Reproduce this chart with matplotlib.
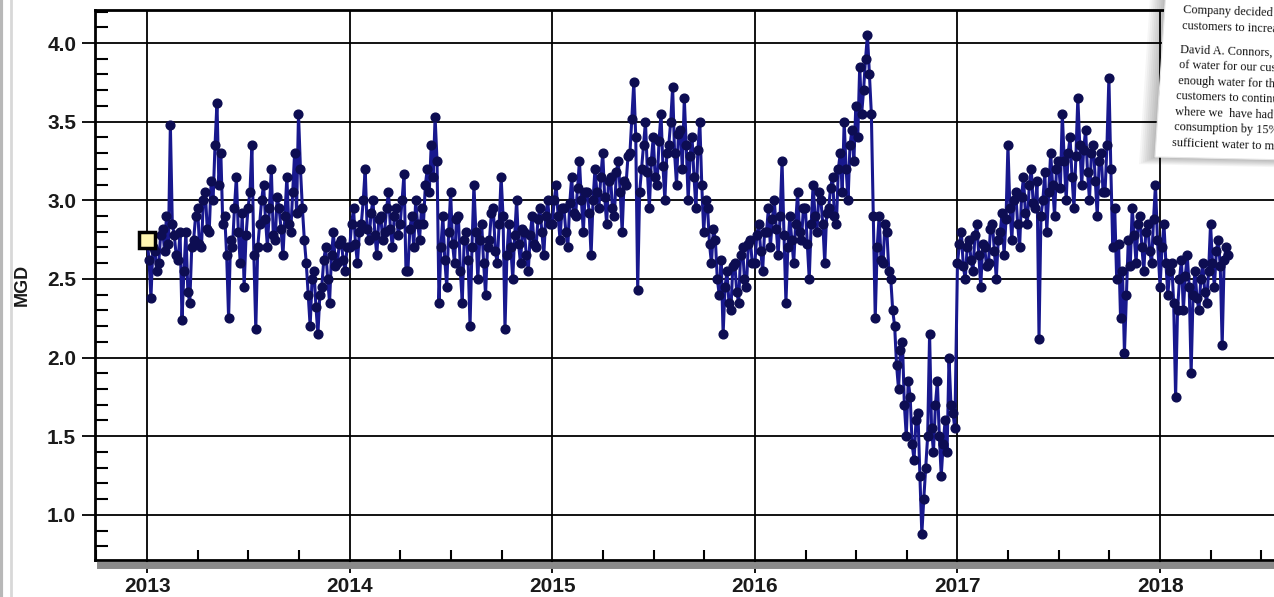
import matplotlib

matplotlib.use("Agg")
import matplotlib.pyplot as plt
import numpy as np
from matplotlib.lines import Line2D
from matplotlib.patches import Polygon
from matplotlib.ticker import FixedLocator, MultipleLocator

# twice-weekly production, million gallons per day, one list per calendar year
mgd_2013 = [2.75, 2.62, 2.38, 2.70, 2.68, 2.55, 2.60, 2.78, 2.82, 2.68, 2.90, 2.72, 3.48, 2.85,
            2.78, 2.65, 2.62, 2.80, 2.24, 2.55, 2.80, 2.42, 2.35, 2.70, 2.75, 2.90, 2.95, 2.72,
            2.70, 3.00, 3.05, 2.82, 2.80, 3.12, 3.00, 3.35, 3.62, 3.10, 3.30, 2.85, 2.90, 2.65,
            2.25, 2.75, 2.70, 2.95, 3.15, 2.80, 2.60, 2.92, 2.45, 2.78, 2.95, 3.05, 3.35, 2.65,
            2.18, 2.70, 2.85, 3.00, 3.10, 2.88, 2.70, 2.95, 3.20, 2.78, 2.75, 3.02, 2.95, 2.82,
            2.65, 2.90, 3.15, 2.85, 2.80, 3.05, 3.30, 2.92, 3.55, 3.20, 2.95, 2.75, 2.60, 2.40,
            2.20, 2.50, 2.55, 2.32, 2.15, 2.40, 2.45, 2.62, 2.70, 2.50, 2.35, 2.65, 2.80, 2.58,
            2.60, 2.72, 2.75, 2.62, 2.55, 2.70]
mgd_2014 = [2.70, 2.85, 2.95, 2.72, 2.60, 2.80, 2.85, 3.00, 3.20, 2.82, 2.75, 2.92, 3.00, 2.78,
            2.65, 2.88, 2.90, 2.75, 2.80, 2.95, 3.05, 2.82, 2.70, 2.90, 2.95, 2.78, 2.85, 3.00,
            3.17, 2.55, 2.55, 2.82, 2.90, 2.70, 3.00, 2.85, 2.75, 2.95, 2.85, 3.10, 3.20, 3.05,
            3.35, 3.15, 3.53, 3.25, 2.35, 2.70, 2.90, 2.62, 2.45, 2.80, 3.05, 2.72, 2.60, 2.88,
            2.90, 2.55, 2.35, 2.75, 2.80, 2.62, 2.20, 2.70, 3.10, 2.80, 2.50, 2.75, 2.85, 2.60,
            2.40, 2.70, 2.75, 2.92, 2.95, 2.68, 2.60, 2.85, 3.15, 2.90, 2.18, 2.65, 2.85, 2.70,
            2.50, 2.78, 3.00, 2.72, 2.60, 2.82, 2.80, 2.65, 2.55, 2.78, 2.90, 2.72, 2.70, 2.88,
            2.95, 2.80, 2.65, 2.90, 3.00, 2.85]
mgd_2015 = [2.85, 3.00, 3.10, 2.90, 2.75, 2.95, 2.95, 2.80, 2.70, 2.98, 3.15, 2.92, 2.90, 3.08,
            3.25, 3.00, 2.80, 3.05, 3.05, 2.92, 2.65, 3.00, 3.20, 3.05, 2.95, 3.15, 3.30, 3.02,
            2.85, 3.12, 3.15, 2.95, 2.90, 3.18, 3.25, 3.05, 2.80, 3.12, 3.10, 3.28, 3.30, 3.52,
            3.75, 3.40, 2.43, 3.05, 3.20, 3.35, 3.50, 3.18, 2.95, 3.25, 3.40, 3.15, 3.10, 3.38,
            3.55, 3.22, 3.00, 3.30, 3.35, 3.50, 3.72, 3.30, 3.10, 3.42, 3.45, 3.20, 3.65, 3.35,
            3.00, 3.28, 3.40, 3.15, 2.95, 3.32, 3.50, 3.10, 2.80, 3.00, 2.95, 2.72, 2.60, 2.82,
            2.75, 2.50, 2.40, 2.62, 2.15, 2.45, 2.55, 2.35, 2.30, 2.58, 2.60, 2.42, 2.35, 2.65,
            2.70, 2.50, 2.45, 2.72, 2.75, 2.60]
mgd_2016 = [2.60, 2.78, 2.85, 2.68, 2.55, 2.80, 2.80, 2.95, 2.70, 2.88, 3.00, 2.82, 2.65, 2.90,
            3.25, 2.78, 2.35, 2.70, 2.90, 2.75, 2.60, 2.85, 3.05, 2.80, 2.75, 2.95, 2.95, 2.72,
            2.50, 2.85, 3.10, 2.90, 2.80, 3.05, 3.00, 2.85, 2.60, 2.92, 2.95, 3.08, 3.15, 2.90,
            2.85, 3.20, 3.30, 3.05, 3.50, 3.20, 3.00, 3.35, 3.45, 3.25, 3.60, 3.40, 3.85, 3.55,
            3.70, 3.90, 4.05, 3.80, 3.55, 2.90, 2.25, 2.70, 2.90, 2.62, 2.60, 2.85, 2.80, 2.55,
            2.50, 2.30, 2.20, 1.95, 1.80, 2.05, 2.10, 1.70, 1.50, 1.85, 1.75, 1.45, 1.35, 1.60,
            1.65, 1.25, 0.88, 1.10, 1.30, 1.50, 2.15, 1.55, 1.40, 1.70, 1.85, 1.50, 1.25, 1.45,
            1.60, 1.40, 2.00, 1.70, 1.65, 1.55]
mgd_2017 = [2.60, 2.72, 2.80, 2.58, 2.50, 2.70, 2.75, 2.62, 2.55, 2.78, 2.85, 2.65, 2.45, 2.72,
            2.70, 2.58, 2.60, 2.82, 2.85, 2.68, 2.50, 2.75, 2.80, 2.92, 2.65, 2.88, 3.35, 2.95,
            2.75, 3.00, 3.05, 2.85, 2.70, 3.02, 3.15, 2.92, 2.85, 3.10, 3.20, 2.98, 2.95, 3.12,
            2.12, 2.90, 3.00, 3.18, 2.80, 3.05, 3.30, 3.10, 2.90, 3.20, 3.25, 3.08, 3.55, 3.25,
            3.00, 3.30, 3.40, 3.15, 2.95, 3.28, 3.65, 3.35, 3.10, 3.32, 3.45, 3.18, 3.00, 3.30,
            3.35, 3.12, 2.90, 3.25, 3.30, 3.05, 3.05, 3.35, 3.78, 3.20, 2.70, 2.95, 2.50, 2.72,
            2.25, 2.55, 2.03, 2.40, 2.75, 2.58, 2.95, 2.78, 2.60, 2.85, 2.90, 2.70, 2.55, 2.80,
            2.85, 2.68, 2.60, 2.88, 3.10, 2.75]
mgd_2018 = [2.45, 2.70, 2.85, 2.60, 2.40, 2.55, 2.60, 2.35, 1.75, 2.30, 2.50, 2.62, 2.30, 2.52,
            2.65, 2.45, 1.90, 2.40, 2.55, 2.38, 2.30, 2.50, 2.60, 2.42, 2.35, 2.55, 2.85, 2.60,
            2.45, 2.68, 2.75, 2.58, 2.08, 2.62, 2.70, 2.65]

years = [2013, 2014, 2015, 2016, 2017, 2018]
series = [mgd_2013, mgd_2014, mgd_2015, mgd_2016, mgd_2017, mgd_2018]

note_lines = [
    "Company decided i",
    "customers to increa",
    "David A. Connors, I",
    "of water for our cust",
    "enough water for tho",
    "customers to continu",
    "where we  have had h",
    "consumption by 15%",
    "sufficient water to me",
]

t = np.concatenate([yr + np.arange(len(v)) * 3.5 / 365.25 for yr, v in zip(years, series)])
mgd = np.concatenate(series)

W, H = 1274, 597
fig = plt.figure(figsize=(W / 100, H / 100), dpi=100)
fig.patch.set_facecolor("white")

x0, x1 = 2012.743, 2018.75
px_per_yr = 202.6
ax_w = (x1 - x0) * px_per_yr / W
ax = fig.add_axes([95 / W, 1 - 560 / H, ax_w, 550 / H])
ax.set_xlim(x0, x1)
ax.set_ylim(0.713, 4.21)

ax.plot(t, mgd, color="#18188e", lw=2.2, marker="o", ms=6.3,
        mfc="#0d0d52", mec="#0d0d52", zorder=3)
# selected-point marker on the first sample
ax.plot(t[0], mgd[0], marker="s", ms=11, mfc="#fff6b0", mec="black", mew=2.5, zorder=4)

ax.xaxis.set_major_locator(FixedLocator(years))
ax.xaxis.set_minor_locator(MultipleLocator(0.25))
ax.set_xticklabels([str(y) for y in years])
ax.yaxis.set_major_locator(MultipleLocator(0.5))
ax.yaxis.set_minor_locator(MultipleLocator(0.1))
ax.yaxis.set_major_formatter(plt.FormatStrFormatter("%.1f"))

font = "Liberation Sans"
for lab in ax.get_xticklabels() + ax.get_yticklabels():
    lab.set_fontfamily(font)
    lab.set_fontweight("bold")
    lab.set_fontsize(15)
    lab.set_color("#1a1a1a")

ax.tick_params(which="major", direction="out", length=9.5, width=1.3, color="black")
ax.tick_params(axis="y", which="major", pad=4)
ax.tick_params(axis="x", which="major", pad=3)
ax.tick_params(axis="y", which="minor", direction="in", length=9, width=1.5)
ax.tick_params(axis="x", which="minor", direction="in", length=7, width=1.5)
ax.grid(which="major", color="black", lw=1.3, zorder=1)

for side in ("left", "bottom", "top"):
    ax.spines[side].set_linewidth(2)
    ax.spines[side].set_color("black")
ax.spines["right"].set_visible(False)


def fig_xy(px, py):
    return (px / W, 1 - py / H)


fig.text(*fig_xy(22, 285), "MGD", fontfamily=font, fontweight="bold", fontsize=13,
         rotation=90, ha="center", va="center", color="#1a1a1a")

# drop shadow under the time axis
fig.add_artist(Line2D([100 / W, 1.0], [1 - 565 / H] * 2, color="#8a8a8a", lw=5,
                      transform=fig.transFigure))

# window chrome on the left edge
fig.add_artist(Line2D([1.5 / W] * 2, [0, 1], color="#b8b8b8", lw=3, transform=fig.transFigure))
fig.add_artist(Line2D([11 / W] * 2, [0, 1], color="#d8d8d8", lw=2, transform=fig.transFigure))

# pasted newspaper clipping with a soft shadow
card = [(1166, -10), (1155, 157), (1290, 160), (1300, -10)]
for k in range(8):
    off = 16 - 2 * k
    shadow = [(x - off, y + off * 0.45) for x, y in card]
    fig.add_artist(Polygon([fig_xy(*p) for p in shadow], closed=True,
                           transform=fig.transFigure, fc="black", ec="none", alpha=0.035))
fig.add_artist(Polygon([fig_xy(*p) for p in card], closed=True,
                       transform=fig.transFigure, fc="white", ec="#e6e6e6", lw=0.8))

for i, line in enumerate(note_lines):
    py = 10 + i * 16.5 if i < 2 else 50 + (i - 2) * 15.5
    px = 1183 - i * 1.3
    fig.text(*fig_xy(px, py), line, fontfamily="Liberation Serif", fontsize=8.8,
             color="#111111", rotation=-2, ha="left", va="center",
             rotation_mode="anchor")

fig.savefig("out.png", dpi=100)
